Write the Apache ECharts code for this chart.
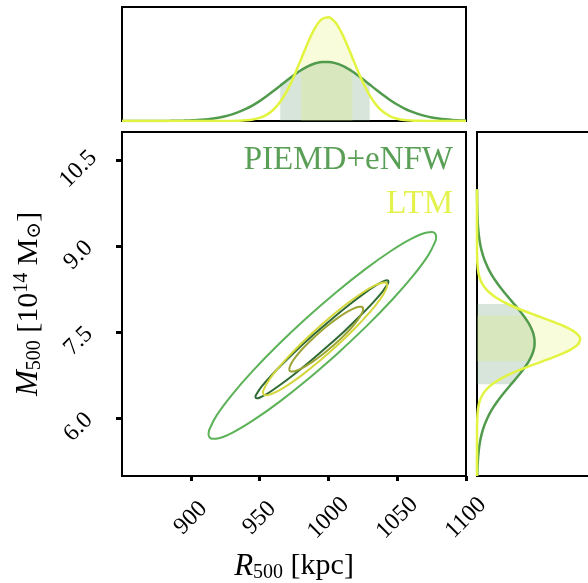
<!DOCTYPE html>
<html>
<head>
<meta charset="utf-8">
<script src="https://cdn.jsdelivr.net/npm/echarts@6/dist/echarts.min.js"></script>
<style>
  html, body { margin: 0; padding: 0; background: #ffffff; }
  #chart { width: 588px; height: 583px; }
</style>
</head>
<body>
<div id="chart"></div>
<script>
// ---------- data ----------
// R500 grid (kpc) for the marginal posterior densities (top panel)
const radiusGrid = [850, 855, 860, 865, 870, 875, 880, 885, 890, 895, 900, 905, 910, 915, 920, 925, 930, 935, 940, 945,
  950, 955, 960, 965, 970, 975, 980, 985, 990, 995, 1000, 1005, 1010, 1015, 1017.5, 1020, 1025, 1030, 1035, 1040,
  1045, 1050, 1055, 1060, 1065, 1070, 1075, 1080, 1085, 1090, 1095, 1100];
const radiusDensityPiemd = [0.0000004, 0.0000008, 0.0000015, 0.0000028, 0.0000053, 0.0000095, 0.000017, 0.000029, 0.000049, 0.000081,
  0.000130, 0.000205, 0.000314, 0.000471, 0.000689, 0.000985, 0.001376, 0.001876, 0.002499, 0.003249,
  0.004126, 0.005118, 0.006199, 0.007334, 0.008473, 0.009560, 0.010534, 0.011336, 0.011914, 0.012228,
  0.012257, 0.011999, 0.011471, 0.010709, 0.010257, 0.009766, 0.008695, 0.007564, 0.006424, 0.005328,
  0.004315, 0.003414, 0.002638, 0.001991, 0.001466, 0.001055, 0.000742, 0.000509, 0.000341, 0.000224,
  0.000143, 0.000089];
const radiusDensityLtm = [0, 0, 0, 0, 0, 0, 0, 0, 0, 0,
  0, 0, 0.0000002, 0.0000007, 0.0000024, 0.0000072, 0.000021, 0.000054, 0.000133, 0.000305,
  0.000646, 0.001275, 0.002338, 0.003985, 0.006314, 0.009298, 0.012731, 0.016199, 0.019163, 0.021071,
  0.021538, 0.020465, 0.018076, 0.014840, 0.013083, 0.011324, 0.008035, 0.005298, 0.003249, 0.001851,
  0.000980, 0.000483, 0.000221, 0.000094, 0.000037, 0.0000136, 0.0000047, 0.0000015, 0.0000004, 0.0000001,
  0, 0];

// M500 grid (1e14 Msun) for the marginal posterior densities (right panel)
const massGrid = [5.0, 5.1, 5.2, 5.3, 5.4, 5.5, 5.6, 5.7, 5.8, 5.9, 6.0, 6.1, 6.2, 6.3, 6.4, 6.5, 6.6, 6.7, 6.8, 6.9,
  7.0, 7.1, 7.2, 7.3, 7.4, 7.5, 7.6, 7.7, 7.8, 7.9, 8.0, 8.1, 8.2, 8.3, 8.4, 8.5, 8.6, 8.7, 8.8, 8.9,
  9.0, 9.1, 9.2, 9.3, 9.4, 9.5, 9.6, 9.7, 9.8, 9.9, 10.0];
const massDensityPiemd = [0.0027, 0.0042, 0.0065, 0.0097, 0.0144, 0.0208, 0.0295, 0.0410, 0.0560, 0.0749,
  0.0983, 0.1264, 0.1594, 0.1971, 0.2390, 0.2842, 0.3313, 0.3788, 0.4245, 0.4666,
  0.5027, 0.5312, 0.5504, 0.5591, 0.5569, 0.5439, 0.5209, 0.4891, 0.4504, 0.4065,
  0.3599, 0.3124, 0.2658, 0.2218, 0.1815, 0.1456, 0.1146, 0.0884, 0.0668, 0.0496,
  0.0360, 0.0257, 0.0180, 0.0123, 0.0083, 0.0055, 0.0035, 0.0022, 0.0014, 0.0008, 0.0005];
const massDensityLtm = [0, 0, 0, 0, 0, 0, 0.00004, 0.00014, 0.00038, 0.0010,
  0.0025, 0.0057, 0.0124, 0.0252, 0.0484, 0.0870, 0.1469, 0.2329, 0.3466, 0.4844,
  0.6355, 0.7827, 0.9050, 0.9824, 1.0011, 0.9579, 0.8604, 0.7256, 0.5745, 0.4269,
  0.2979, 0.1952, 0.1200, 0.0693, 0.0376, 0.0191, 0.0091, 0.0041, 0.0017, 0.0007,
  0.0002, 0, 0, 0, 0, 0, 0, 0, 0, 0, 0];

// 16th-84th percentile intervals
const radiusBandPiemd = [965, 1030];
const radiusBandLtm = [980, 1017.5];
const massBandPiemd = [6.6, 8.0];
const massBandLtm = [7.0, 7.8];

// joint (R500, M500) credible contours (closed loops)
const contourPiemdOuter = [[1007.1, 7.147], [985.5, 6.697], [964.6, 6.298], [945.8, 5.978], [930.4, 5.758], [919.5, 5.654],
  [915.9, 5.648], [913.7, 5.672], [912.9, 5.727], [913.5, 5.811], [918.9, 6.062], [929.6, 6.408], [944.7, 6.824],
  [963.3, 7.284], [984.1, 7.755], [1005.7, 8.205], [1026.6, 8.604], [1045.4, 8.924], [1060.8, 9.144], [1071.7, 9.248],
  [1075.3, 9.254], [1077.5, 9.230], [1078.3, 9.175], [1077.7, 9.091], [1072.3, 8.840], [1061.6, 8.494], [1046.5, 8.078],
  [1027.9, 7.618], [1007.1, 7.147]];
const contourPiemdInner = [[999.6, 7.267], [987.0, 7.006], [975.0, 6.771], [964.3, 6.578], [955.8, 6.439], [949.9, 6.365],
  [948.1, 6.354], [947.2, 6.361], [947.0, 6.385], [947.7, 6.426], [951.4, 6.557], [958.2, 6.744], [967.5, 6.974],
  [978.6, 7.233], [991.0, 7.501], [1003.6, 7.762], [1015.6, 7.997], [1026.3, 8.190], [1034.8, 8.329], [1040.7, 8.403],
  [1042.5, 8.414], [1043.4, 8.407], [1043.6, 8.383], [1042.9, 8.342], [1039.2, 8.211], [1032.4, 8.024], [1023.1, 7.794],
  [1012.0, 7.535], [999.6, 7.267]];
const contourLtmOuter = [[1003.9, 7.223], [992.2, 6.978], [980.8, 6.760], [970.5, 6.586], [962.1, 6.467], [956.1, 6.411],
  [954.2, 6.407], [953.0, 6.421], [952.5, 6.451], [952.8, 6.498], [955.8, 6.635], [961.5, 6.824], [969.8, 7.051],
  [979.9, 7.302], [991.3, 7.559], [1003.0, 7.804], [1014.4, 8.022], [1024.7, 8.196], [1033.1, 8.315], [1039.1, 8.371],
  [1041.0, 8.375], [1042.3, 8.361], [1042.7, 8.331], [1042.4, 8.284], [1039.5, 8.147], [1033.7, 7.958], [1025.4, 7.731],
  [1015.3, 7.480], [1003.9, 7.223]];
const contourLtmInner = [[1002.9, 7.262], [995.9, 7.123], [989.1, 7.003], [982.9, 6.908], [977.8, 6.846], [974.0, 6.821],
  [972.8, 6.823], [971.9, 6.835], [971.6, 6.856], [971.7, 6.886], [973.2, 6.971], [976.5, 7.085], [981.2, 7.219],
  [987.2, 7.365], [993.9, 7.512], [1000.9, 7.651], [1007.7, 7.771], [1013.9, 7.866], [1019.0, 7.928], [1022.8, 7.953],
  [1024.0, 7.951], [1024.9, 7.939], [1025.2, 7.918], [1025.1, 7.888], [1023.6, 7.803], [1020.3, 7.689], [1015.6, 7.555],
  [1009.6, 7.409], [1002.9, 7.262]];

// tick labels
const radiusTicks = [900, 950, 1000, 1050, 1100];
const massTicks = [6.0, 7.5, 9.0, 10.5];

// ---------- styling ----------
const FONT = "'Liberation Serif', 'DejaVu Serif', serif";
const COL_PIEMD = '#519b4d';
const COL_LTM = '#e2f440';
const COL_PIEMD_OUT = '#5bb257';
const COL_PIEMD_IN = '#2f6a35';
const COL_LTM_OUT = '#d3d73c';
const COL_LTM_IN = '#9ca534';
const FILL_PIEMD = 'rgba(95,150,110,0.25)';
const FILL_LTM = 'rgba(222,242,70,0.20)';

function pairs(xs, ys) { return xs.map((x, i) => [x, ys[i]]); }
function flipped(xs, ys) { return xs.map((x, i) => [ys[i], x]); }

// shaded interval under a density curve; `vertical` = density on the y axis
function bandRenderer(grid, dens, band, vertical, fill) {
  return function (params, api) {
    const pts = [];
    pts.push(vertical ? api.coord([band[0], 0]) : api.coord([0, band[0]]));
    for (let i = 0; i < grid.length; i++) {
      if (grid[i] >= band[0] - 1e-9 && grid[i] <= band[1] + 1e-9) {
        pts.push(vertical ? api.coord([grid[i], dens[i]]) : api.coord([dens[i], grid[i]]));
      }
    }
    pts.push(vertical ? api.coord([band[1], 0]) : api.coord([0, band[1]]));
    return { type: 'polygon', shape: { points: pts }, style: { fill: fill } };
  };
}

const lineBase = { type: 'line', showSymbol: false, symbol: 'none', animation: false, silent: true };
const frame = { show: true, borderColor: '#000', borderWidth: 2, outerBoundsMode: 'none', containLabel: false };

const option = {
  animation: false,
  backgroundColor: '#ffffff',
  legend: {
    orient: 'vertical', right: 125, top: 139, align: 'right', itemGap: 11,
    itemWidth: 0, itemHeight: 0, selectedMode: false,
    textStyle: { fontFamily: FONT, fontSize: 33 },
    data: [
      { name: 'PIEMD+eNFW', icon: 'rect', textStyle: { color: '#5a9f56' } },
      { name: 'LTM', icon: 'rect', textStyle: { color: '#e4f24e' } }
    ]
  },
  grid: [
    Object.assign({ left: 122, top: 132, width: 344, height: 344 }, frame),
    Object.assign({ left: 122, top: 7, width: 344, height: 114 }, frame),
    Object.assign({ left: 477, top: 132, width: 114, height: 344 }, frame)
  ],
  xAxis: [
    {
      gridIndex: 0, type: 'value', min: 850, max: 1100,
      axisLine: { show: false }, splitLine: { show: false },
      axisTick: { show: true, inside: false, length: 5, customValues: radiusTicks, lineStyle: { color: '#000', width: 3 } },
      axisLabel: {
        customValues: radiusTicks, rotate: 45, align: 'center', verticalAlign: 'middle', margin: 42,
        fontFamily: FONT, fontSize: 24, color: '#000', formatter: v => String(v)
      },
      name: '{i|R}{s|500} {n|[kpc]}', nameLocation: 'middle', nameGap: 74,
      nameTextStyle: {
        fontFamily: FONT, fontSize: 30, color: '#000',
        rich: {
          i: { fontFamily: FONT, fontSize: 31, fontStyle: 'italic', color: '#000' },
          s: { fontFamily: FONT, fontSize: 20, color: '#000', padding: [13, 0, 0, 0] },
          n: { fontFamily: FONT, fontSize: 30, color: '#000' }
        }
      }
    },
    { gridIndex: 1, type: 'value', min: 850, max: 1100, show: false },
    { gridIndex: 2, type: 'value', min: 0, max: 1.107, show: false }
  ],
  yAxis: [
    {
      gridIndex: 0, type: 'value', min: 5.0, max: 11.0,
      axisLine: { show: false }, splitLine: { show: false },
      axisTick: { show: true, inside: false, length: 6, customValues: massTicks, lineStyle: { color: '#000', width: 3 } },
      axisLabel: {
        customValues: massTicks, rotate: 45, align: 'center', verticalAlign: 'top', margin: 52,
        fontFamily: FONT, fontSize: 24, color: '#000', formatter: v => Number(v).toFixed(1)
      },
      name: '{i|M}{s|500} {n|[10}{p|14}{n| M}{s|⊙}{n|]}', nameLocation: 'middle', nameGap: 74, nameRotate: 90,
      nameTextStyle: {
        fontFamily: FONT, fontSize: 30, color: '#000',
        rich: {
          i: { fontFamily: FONT, fontSize: 31, fontStyle: 'italic', color: '#000' },
          s: { fontFamily: FONT, fontSize: 20, color: '#000', padding: [13, 0, 0, 0] },
          p: { fontFamily: FONT, fontSize: 20, color: '#000', padding: [0, 0, 13, 0] },
          n: { fontFamily: FONT, fontSize: 30, color: '#000' }
        }
      }
    },
    { gridIndex: 1, type: 'value', min: 0, max: 0.02364, show: false },
    { gridIndex: 2, type: 'value', min: 5.0, max: 11.0, show: false }
  ],
  series: [
    // top panel: R500 marginals
    { type: 'custom', name: 'PIEMD+eNFW', xAxisIndex: 1, yAxisIndex: 1, silent: true, z: 1, data: [[1000, 0]],
      renderItem: bandRenderer(radiusGrid, radiusDensityPiemd, radiusBandPiemd, true, FILL_PIEMD) },
    { type: 'custom', name: 'LTM', xAxisIndex: 1, yAxisIndex: 1, silent: true, z: 1, data: [[1000, 0]],
      renderItem: bandRenderer(radiusGrid, radiusDensityLtm, radiusBandLtm, true, FILL_LTM) },
    Object.assign({}, lineBase, { name: 'PIEMD+eNFW', xAxisIndex: 1, yAxisIndex: 1, smooth: 0.3, z: 3,
      lineStyle: { color: COL_PIEMD, width: 2.5 }, itemStyle: { color: COL_PIEMD },
      data: pairs(radiusGrid, radiusDensityPiemd) }),
    Object.assign({}, lineBase, { name: 'LTM', xAxisIndex: 1, yAxisIndex: 1, smooth: 0.3, z: 3,
      lineStyle: { color: COL_LTM, width: 2.5 }, itemStyle: { color: COL_LTM },
      data: pairs(radiusGrid, radiusDensityLtm) }),

    // right panel: M500 marginals
    { type: 'custom', name: 'PIEMD+eNFW', xAxisIndex: 2, yAxisIndex: 2, silent: true, z: 1, data: [[0, 7]],
      renderItem: bandRenderer(massGrid, massDensityPiemd, massBandPiemd, false, FILL_PIEMD) },
    { type: 'custom', name: 'LTM', xAxisIndex: 2, yAxisIndex: 2, silent: true, z: 1, data: [[0, 7]],
      renderItem: bandRenderer(massGrid, massDensityLtm, massBandLtm, false, FILL_LTM) },
    Object.assign({}, lineBase, { name: 'PIEMD+eNFW', xAxisIndex: 2, yAxisIndex: 2, smooth: 0.3, z: 3,
      lineStyle: { color: COL_PIEMD, width: 2.5 }, itemStyle: { color: COL_PIEMD },
      data: flipped(massGrid, massDensityPiemd) }),
    Object.assign({}, lineBase, { name: 'LTM', xAxisIndex: 2, yAxisIndex: 2, smooth: 0.3, z: 3,
      lineStyle: { color: COL_LTM, width: 2.5 }, itemStyle: { color: COL_LTM },
      data: flipped(massGrid, massDensityLtm) }),

    // main panel: joint contours
    Object.assign({}, lineBase, { name: 'PIEMD+eNFW', xAxisIndex: 0, yAxisIndex: 0, smooth: 0.35, z: 3,
      lineStyle: { color: COL_PIEMD_OUT, width: 2 }, itemStyle: { color: COL_PIEMD }, data: contourPiemdOuter }),
    Object.assign({}, lineBase, { name: 'PIEMD+eNFW', xAxisIndex: 0, yAxisIndex: 0, smooth: 0.35, z: 3,
      lineStyle: { color: COL_PIEMD_IN, width: 2 }, itemStyle: { color: COL_PIEMD }, data: contourPiemdInner }),
    Object.assign({}, lineBase, { name: 'LTM', xAxisIndex: 0, yAxisIndex: 0, smooth: 0.35, z: 4,
      lineStyle: { color: COL_LTM_OUT, width: 2 }, itemStyle: { color: COL_LTM }, data: contourLtmOuter }),
    Object.assign({}, lineBase, { name: 'LTM', xAxisIndex: 0, yAxisIndex: 0, smooth: 0.35, z: 4,
      lineStyle: { color: COL_LTM_IN, width: 2 }, itemStyle: { color: COL_LTM }, data: contourLtmInner })
  ]
};

const chart = echarts.init(document.getElementById('chart'), null, { renderer: 'canvas' });
chart.setOption(option);
</script>
</body>
</html>
